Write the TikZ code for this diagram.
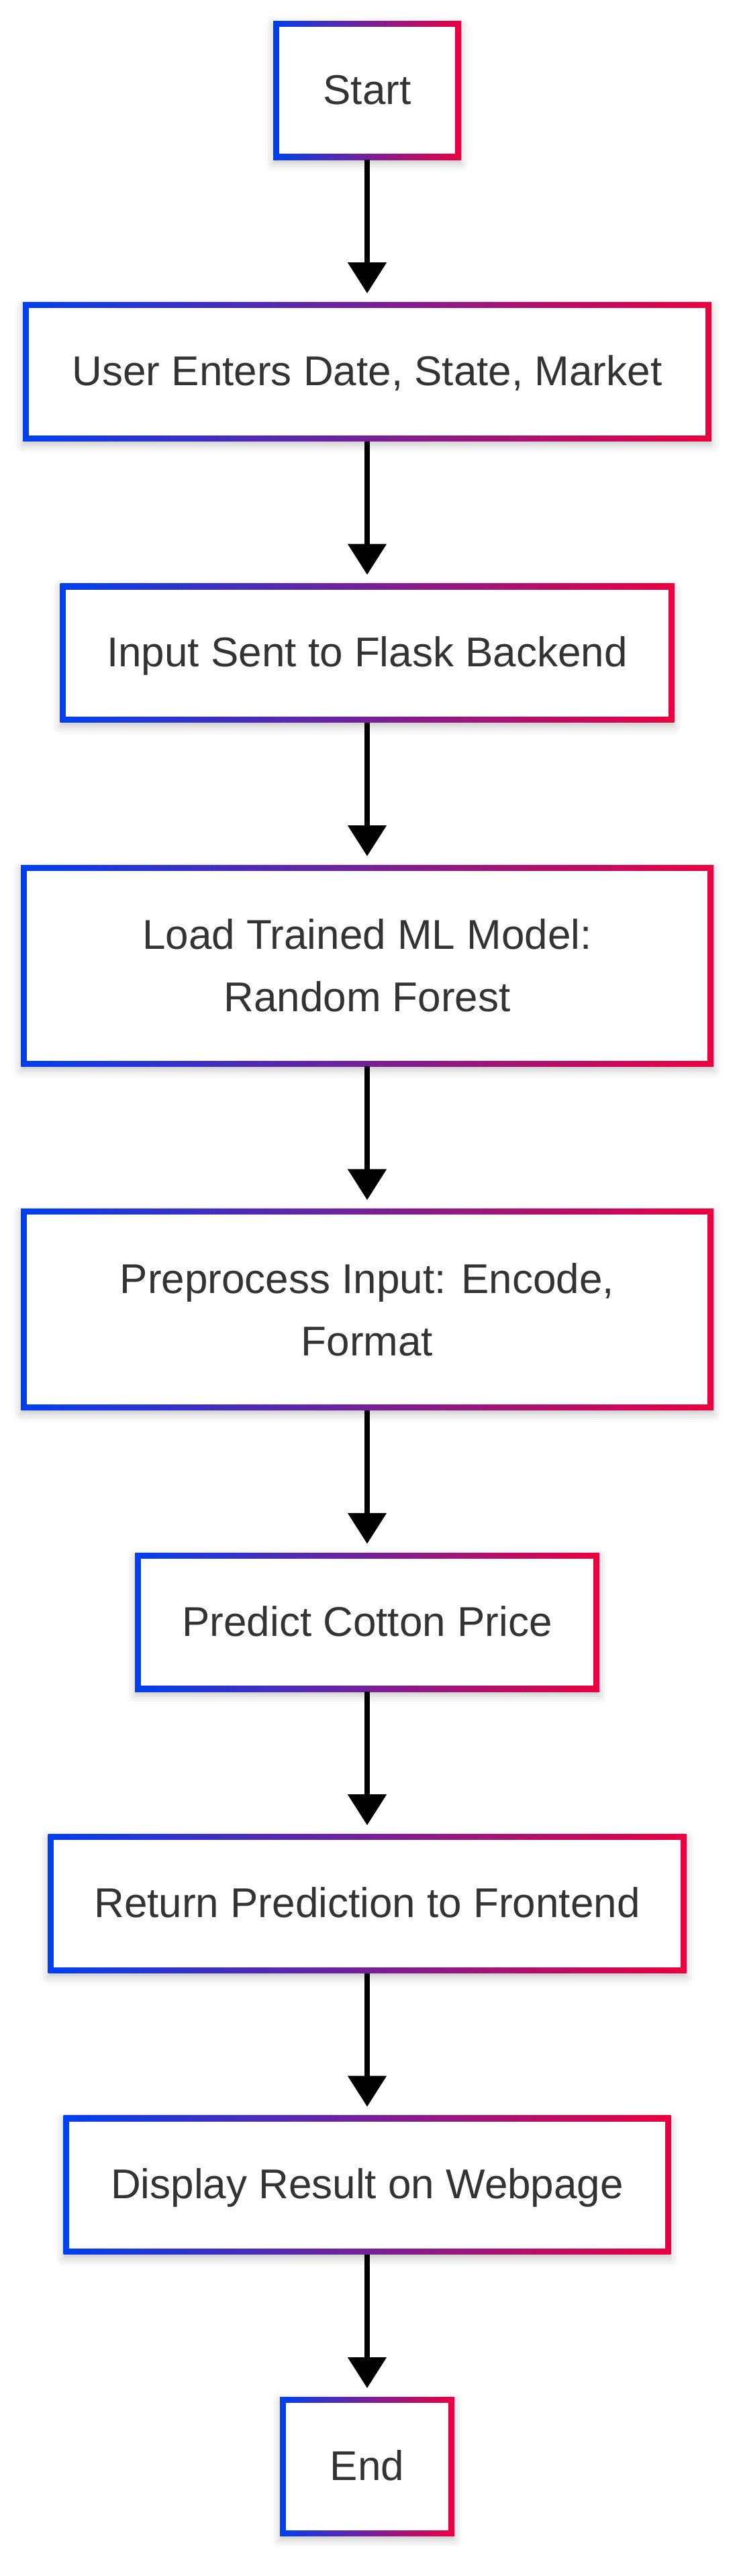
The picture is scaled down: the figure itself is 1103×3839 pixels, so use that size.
\documentclass[tikz,border=0pt]{standalone}
\usepackage{fontspec}
\setmainfont{Liberation Sans}
\usetikzlibrary{arrows.meta,shadows.blur}
\definecolor{gblue}{RGB}{0,64,240}
\definecolor{gred}{RGB}{235,0,64}
\definecolor{txt}{RGB}{51,51,51}
\begin{document}
\begin{tikzpicture}[x=1pt,y=-1pt,
  gbox/.style={rectangle, inner sep=0pt, minimum width=#1, fill=white,
    text=txt, font=\fontsize{62pt}{93pt}\selectfont, align=center,
    blur shadow={shadow xshift=0pt, shadow yshift=-6pt, shadow blur radius=12pt, shadow opacity=22},
    path picture={
      \shade[left color=gblue, right color=gred]
        (path picture bounding box.south west) rectangle (path picture bounding box.north east);
      \fill[white]
        ([xshift=8.7pt,yshift=8.7pt]path picture bounding box.south west) rectangle
        ([xshift=-8.7pt,yshift=-8.7pt]path picture bounding box.north east);
    }},
  one/.style={minimum height=207pt, text height=56pt, text depth=15pt},
  two/.style={minimum height=300pt},
  flow/.style={line width=8.3pt, -{Triangle[width=56pt,length=46pt]}, shorten >=13pt}
]
\useasboundingbox (0,0) rectangle (1103,3839);
\node[gbox=280pt, one] (start) at (547,134.5) {Start};
\node[gbox=1026pt, one] (user) at (547,553.9) {User Enters Date, State, Market};
\node[gbox=915pt, one] (input) at (547,973.3) {Input Sent to Flask Backend};
\node[gbox=1032pt, two] (load) at (547,1439.2) {Load Trained ML Model:\\Random Forest};
\node[gbox=1032pt, two] (prep) at (547,1951.6) {Preprocess Input: Encode,\\Format};
\node[gbox=692pt, one] (pred) at (547,2417.5) {Predict Cotton Price};
\node[gbox=951pt, one] (ret) at (547,2836.9) {Return Prediction to Frontend};
\node[gbox=905pt, one] (disp) at (547,3256.3) {Display Result on Webpage};
\node[gbox=260pt, one] (end) at (547,3675.7) {End};
\draw[flow] (start) -- (user);
\draw[flow] (user) -- (input);
\draw[flow] (input) -- (load);
\draw[flow] (load) -- (prep);
\draw[flow] (prep) -- (pred);
\draw[flow] (pred) -- (ret);
\draw[flow] (ret) -- (disp);
\draw[flow] (disp) -- (end);
\end{tikzpicture}
\end{document}
